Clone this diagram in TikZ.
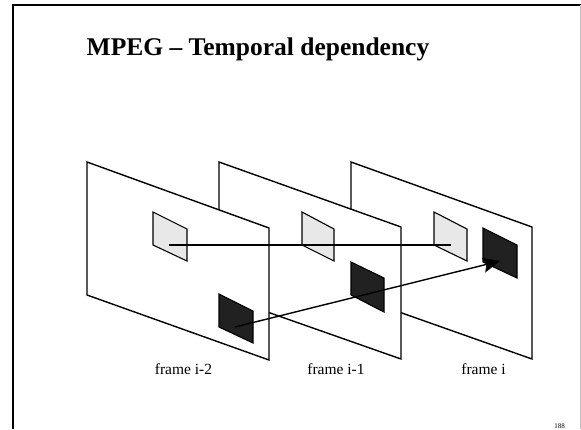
\documentclass[tikz,border=0pt]{standalone}
\usepackage{fontspec}
\setmainfont{Liberation Serif}
\usetikzlibrary{arrows.meta}
\begin{document}
\begin{tikzpicture}[x=1pt, y=-1pt,
	plane/.style={draw, fill=white, line width=1.4pt},
	lightpatch/.style={draw, fill=black!9, line width=1.1pt},
	darkpatch/.style={draw, fill=black!87, line width=1.1pt},
	wire/.style={line width=1.4pt},
	framelabel/.style={font=\fontsize{15.5}{18}\selectfont, anchor=base}]
	\useasboundingbox (0,0) rectangle (581,429);
	% Slide border and title:
	\draw[line width=2pt] (13,429) -- (13,5) -- (581,5);
	\draw[black!25, line width=0.8pt] (580,5) -- (580,429);
	\node[font=\bfseries\fontsize{25.5}{30}\selectfont, anchor=base](title) at (258,55){MPEG -- Temporal dependency};
	% Frames, back to front:
	\draw[plane] (351,162) -- (532,227) -- (532,359) -- (351,295) -- cycle;
	\draw[lightpatch] (434,212) -- (467,229) -- (467,261) -- (434,245) -- cycle;
	\draw[darkpatch] (483,228) -- (517,245) -- (517,278) -- (483,262) -- cycle;
	\draw[plane] (219,162) -- (401,227) -- (401,359) -- (219,295) -- cycle;
	\draw[lightpatch] (302,212) -- (334,229) -- (334,261) -- (302,245) -- cycle;
	\draw[darkpatch] (351,262) -- (384,278) -- (384,312) -- (351,295) -- cycle;
	\draw[plane] (87,162) -- (269,228) -- (269,360) -- (87,295) -- cycle;
	\draw[lightpatch] (153,212) -- (187,229) -- (187,261) -- (153,245) -- cycle;
	\draw[darkpatch] (219,294) -- (253,311) -- (253,343) -- (219,327) -- cycle;
	% Paths, nodes and wires:
	\coordinate (L1) at (169,245);
	\coordinate (L3) at (451,245);
	\coordinate (D1) at (235,327);
	\coordinate (D3) at (500,261);
	\draw[wire] (L1) -- (L3);
	\draw[wire, -{Stealth[length=17pt, width=15pt, inset=3pt]}] (D1) -- (D3);
	\node[framelabel](lab1) at (183.5,374){frame i-2};
	\node[framelabel](lab2) at (336,374){frame i-1};
	\node[framelabel](lab3) at (483.5,374){frame i};
	\node[font=\fontsize{7}{8}\selectfont, anchor=base](page) at (559.5,428){188};
\end{tikzpicture}
\end{document}
